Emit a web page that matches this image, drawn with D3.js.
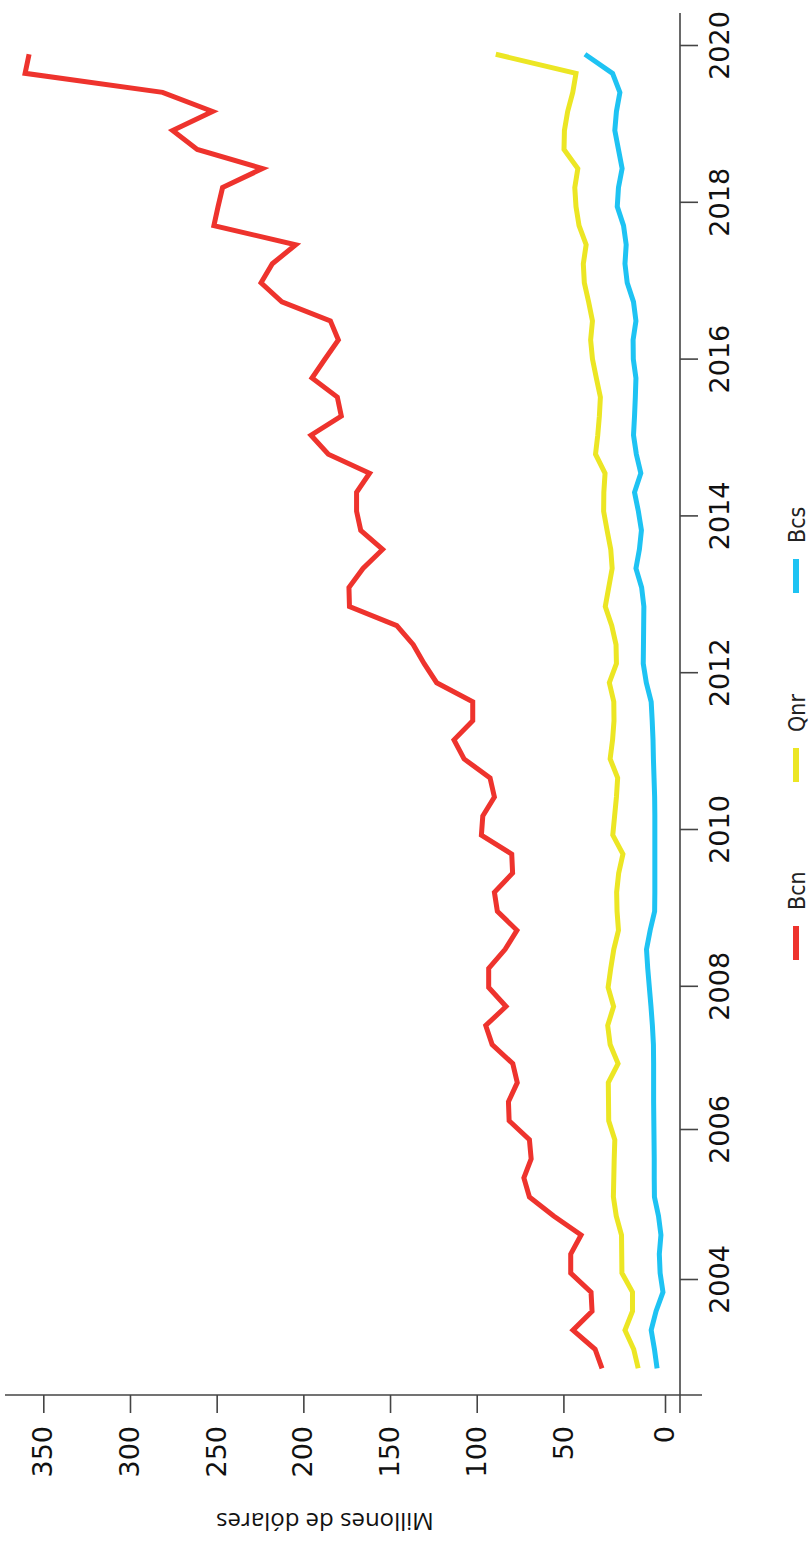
<!DOCTYPE html>
<html>
<head>
<meta charset="utf-8">
<script src="https://cdn.jsdelivr.net/npm/d3@7"></script>
<style>
  body { margin: 0; background: #fff; }
  svg { display: block; }
</style>
</head>
<body>
<svg id="chart" width="810" height="1547"></svg>
<script>
// 70 quarters, 2002 Q4 .. 2020 Q1, plotted mid-quarter
const quarters = d3.range(70).map(i => 2002.875 + i * 0.25);

const bcn = [31.0, 34.4, 45.3, 35.9, 36.4, 46.4, 46.4, 41.3, 55.6, 69.6,
  72.8, 68.6, 69.6, 81.3, 81.7, 76.6, 79.2, 91.1, 94.8, 83.1,
  93.1, 93.1, 83.6, 76.8, 88.1, 89.8, 79.3, 79.8, 97.3, 96.5,
  89.8, 92.3, 107.3, 113.1, 102.3, 102.3, 123.1, 130.3, 136.6, 146.1,
  173.4, 173.7, 165.6, 154.3, 166.9, 169.3, 169.3, 161.8, 185.6, 195.6,
  178.1, 180.4, 195.0, 187.5, 179.8, 184.4, 212.4, 224.4, 217.9, 204.4,
  251.6, 249.2, 246.6, 223.6, 261.2, 275.4, 252.4, 281.2, 360.5, 358.2];

const qnr = [13.2, 15.4, 19.7, 16.0, 16.0, 21.2, 21.3, 21.4, 24.0, 25.4,
  25.2, 25.0, 24.7, 27.7, 27.8, 27.9, 23.1, 27.0, 28.2, 25.3,
  28.0, 26.7, 25.2, 22.9, 23.6, 23.8, 22.8, 20.7, 25.7, 24.8,
  23.9, 23.3, 27.0, 25.8, 25.1, 25.2, 27.4, 23.9, 24.1, 26.2,
  29.4, 27.7, 26.0, 26.7, 28.5, 30.2, 30.1, 29.5, 34.2, 33.1,
  32.3, 31.8, 33.8, 35.7, 36.6, 35.7, 37.6, 39.7, 40.2, 38.8,
  42.3, 43.8, 44.4, 42.9, 49.7, 49.5, 47.9, 45.4, 43.8, 89.0];

const bcs = [3.9, 5.2, 6.8, 4.4, 1.0, 2.4, 2.8, 2.0, 3.2, 5.2,
  5.3, 5.3, 5.4, 5.5, 5.6, 5.6, 5.6, 5.7, 6.2, 6.9,
  7.7, 8.5, 9.1, 7.3, 5.1, 5.0, 5.0, 5.0, 5.0, 5.0,
  5.1, 5.4, 5.7, 5.9, 6.3, 6.8, 9.2, 10.7, 10.6, 10.5,
  10.4, 11.5, 14.3, 12.6, 11.6, 13.1, 15.0, 11.9, 14.1, 15.5,
  15.0, 14.6, 14.3, 15.6, 15.7, 14.3, 15.5, 18.6, 19.7, 19.1,
  20.4, 23.5, 22.9, 21.1, 22.9, 24.7, 23.9, 22.2, 25.8, 39.4];

const seriesNames = ["Bcn", "Qnr", "Bcs"];
const seriesColors = ["#ee332d", "#ece624", "#1ec3f3"];
const yearTicks = [2004, 2006, 2008, 2010, 2012, 2014, 2016, 2018, 2020];
const valueTicks = [0, 50, 100, 150, 200, 250, 300, 350];

// the whole chart is drawn lying on its side:
// build it in a 1547 x 810 frame, then turn it a quarter turn to the left
const W = 1547, H = 810;
const svg = d3.select("#chart");
svg.append("rect").attr("width", 810).attr("height", 1547).attr("fill", "#fff");

const g = svg.append("g").attr("transform", `translate(0,${W}) rotate(-90)`);

const x = d3.scaleLinear().domain([2002.875, 2020.125]).range([178.7, 1492.7]);
// year labels are not on the same spacing as the points
const xTick = d3.scaleLinear()
  .domain([2004, 2006, 2008, 2020])
  .range([267, 417, 560.2, 1501]);
const y = d3.scaleLinear().domain([0, 50, 350]).range([665, 563.4, 43.3]);

const axisColor = "#444";

// year axis
const xAxis = g.append("g")
  .attr("transform", "translate(0,680)")
  .call(d3.axisBottom(xTick).tickValues(yearTicks).tickSize(18).tickPadding(12).tickFormat(d3.format("d")));
xAxis.select(".domain").remove();
xAxis.selectAll("line").attr("stroke", axisColor).attr("stroke-width", 1.6);
xAxis.selectAll("text")
  .attr("font-family", "DejaVu Sans")
  .attr("font-size", 27)
  .attr("fill", "#111");
xAxis.append("line")
  .attr("x1", 134).attr("x2", 1534)
  .attr("stroke", axisColor).attr("stroke-width", 1.6);

// value axis
const yAxis = g.append("g")
  .attr("transform", "translate(152,0)")
  .call(d3.axisLeft(y).tickValues(valueTicks).tickSize(18).tickPadding(13));
yAxis.select(".domain").remove();
yAxis.selectAll("line").attr("stroke", axisColor).attr("stroke-width", 1.6);
yAxis.selectAll("text")
  .attr("font-family", "DejaVu Sans")
  .attr("font-size", 27)
  .attr("fill", "#111");
yAxis.append("line")
  .attr("y1", 5).attr("y2", 702)
  .attr("stroke", axisColor).attr("stroke-width", 1.6);

g.append("text")
  .attr("transform", "translate(34,325) rotate(-90)")
  .attr("text-anchor", "middle")
  .attr("font-family", "Open Sans")
  .attr("font-size", 24)
  .attr("fill", "#111")
  .text("Millones de dólares");

// lines
const line = d3.line()
  .x((d, i) => x(quarters[i]))
  .y(d => y(d));

[bcn, qnr, bcs].forEach((s, k) => {
  g.append("path")
    .datum(s)
    .attr("fill", "none")
    .attr("stroke", seriesColors[k])
    .attr("stroke-width", 5)
    .attr("d", line);
});

// legend
const legendStart = [587, 765, 954];
const legend = g.append("g").attr("class", "legend");
seriesNames.forEach((name, k) => {
  legend.append("line")
    .attr("x1", legendStart[k]).attr("x2", legendStart[k] + 34)
    .attr("y1", 796).attr("y2", 796)
    .attr("stroke", seriesColors[k])
    .attr("stroke-width", 6);
  legend.append("text")
    .attr("x", legendStart[k] + 50)
    .attr("y", 804.5)
    .attr("font-family", "'DejaVu Sans Condensed', 'DejaVu Sans'")
    .attr("font-stretch", "condensed")
    .attr("font-size", 23)
    .attr("fill", "#222")
    .text(name);
});
</script>
</body>
</html>
